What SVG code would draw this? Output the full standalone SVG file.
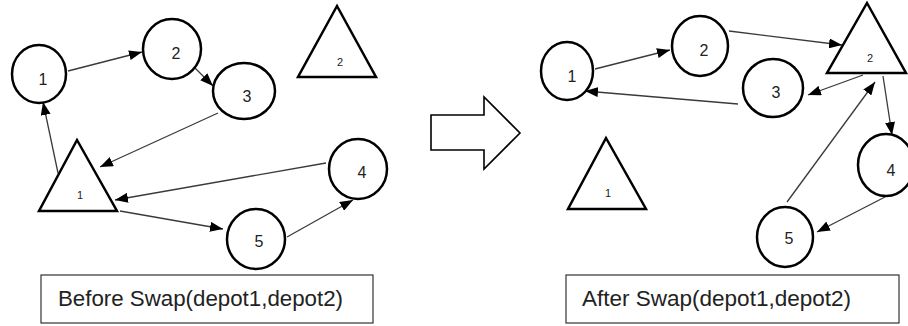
<svg xmlns="http://www.w3.org/2000/svg" width="908" height="326" viewBox="0 0 908 326">
<defs>
<style>
.node{fill:#fff;stroke:#000;stroke-width:2.5}
.tri{fill:#fff;stroke:#000;stroke-width:2.5;stroke-linejoin:miter}
.lbl{font-family:"Liberation Sans",Arial,sans-serif;font-size:16px;fill:#222;text-anchor:middle}
.tlbl{font-family:"Liberation Sans",Arial,sans-serif;font-size:11px;fill:#222;text-anchor:middle}
.edge{stroke:#3a3a3a;stroke-width:1.3;fill:none;marker-end:url(#ah)}
.cap{fill:#fff;stroke:#333;stroke-width:1.2}
.capt{font-family:"Liberation Sans",Arial,sans-serif;font-size:22.3px;fill:#222}
</style>
<marker id="ah" markerWidth="13" markerHeight="10" refX="13" refY="5" orient="auto" markerUnits="userSpaceOnUse">
<path d="M0,0 L13,5 L0,10 z" fill="#000"/>
</marker>
</defs>
<rect width="908" height="326" fill="#fff"/>

<g id="connectors">
<line class="edge" x1="68" y1="71" x2="142" y2="52"/>
<line class="edge" x1="195" y1="68" x2="213" y2="86"/>
<line class="edge" x1="218" y1="113" x2="100" y2="167"/>
<line class="edge" x1="58" y1="173" x2="43" y2="102"/>
<line class="edge" x1="326" y1="163" x2="115" y2="200"/>
<line class="edge" x1="120" y1="211" x2="223" y2="229"/>
<line class="edge" x1="287" y1="237" x2="353" y2="200"/>
<line class="edge" x1="595" y1="69" x2="670" y2="50"/>
<line class="edge" x1="729" y1="31" x2="842" y2="45"/>
<line class="edge" x1="863" y1="75" x2="808" y2="95"/>
<line class="edge" x1="738" y1="104" x2="585" y2="91"/>
<line class="edge" x1="787" y1="202" x2="875" y2="82"/>
<line class="edge" x1="883" y1="76" x2="892" y2="135"/>
<line class="edge" x1="885" y1="197" x2="817" y2="232"/>
</g>

<g id="before-c1"><ellipse class="node" cx="39" cy="74" rx="27" ry="29"/><text class="lbl" x="43" y="85">1</text></g>
<g id="before-c2"><ellipse class="node" cx="172" cy="49" rx="29" ry="30"/><text class="lbl" x="176" y="59">2</text></g>
<g id="before-c3"><ellipse class="node" cx="244" cy="91" rx="31" ry="28"/><text class="lbl" x="247" y="102">3</text></g>
<g id="before-c4"><ellipse class="node" cx="358" cy="169" rx="29" ry="30"/><text class="lbl" x="362" y="178">4</text></g>
<g id="before-c5"><ellipse class="node" cx="256" cy="239" rx="29" ry="30"/><text class="lbl" x="259" y="247">5</text></g>
<g id="before-depot1"><polygon class="tri" points="77,140 117,211 39,211"/><text class="tlbl" x="80" y="199">1</text></g>
<g id="before-depot2"><polygon class="tri" points="337,6 376,77 298,77"/><text class="tlbl" x="340" y="66">2</text></g>

<g id="swap-arrow"><polygon points="431,115 484,115 484,97 520,133 484,169 484,150 431,150" fill="#fff" stroke="#000" stroke-width="1.6"/></g>

<g id="after-c1"><ellipse class="node" cx="567" cy="71" rx="26" ry="29"/><text class="lbl" x="572" y="82">1</text></g>
<g id="after-c2"><ellipse class="node" cx="700" cy="46" rx="28" ry="30"/><text class="lbl" x="704" y="56">2</text></g>
<g id="after-c3"><ellipse class="node" cx="773" cy="88" rx="30" ry="29"/><text class="lbl" x="776" y="98">3</text></g>
<g id="after-c4"><ellipse class="node" cx="886" cy="165" rx="28" ry="31"/><text class="lbl" x="891" y="176">4</text></g>
<g id="after-c5"><ellipse class="node" cx="785" cy="237" rx="28" ry="30"/><text class="lbl" x="789" y="244">5</text></g>
<g id="after-depot1"><polygon class="tri" points="606,138 646,209 568,209"/><text class="tlbl" x="608" y="197">1</text></g>
<g id="after-depot2"><polygon class="tri" points="867,3 906,73 827,73"/><text class="tlbl" x="870" y="62">2</text></g>

<g id="caption-before"><rect class="cap" x="41" y="275" width="332" height="48"/><text class="capt" x="58" y="306" textLength="285" lengthAdjust="spacingAndGlyphs">Before Swap(depot1,depot2)</text></g>
<g id="caption-after"><rect class="cap" x="566" y="275" width="333" height="48"/><text class="capt" x="582" y="306" textLength="269" lengthAdjust="spacingAndGlyphs">After Swap(depot1,depot2)</text></g>
</svg>
